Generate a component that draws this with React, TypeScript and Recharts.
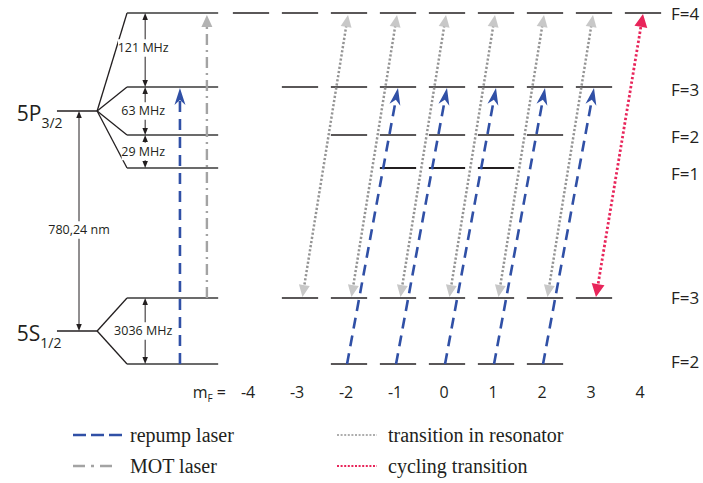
import React from "react";
import { ComposedChart, XAxis, YAxis, ReferenceLine, ReferenceDot, Legend } from "recharts";

const W = 703;
const H = 483;

// one column per magnetic sublevel
const mFValues = [-4, -3, -2, -1, 0, 1, 2, 3, 4];
// 5P3/2 hyperfine levels (schematic height)
const excitedF = [4, 3, 2, 1];
const excitedY = [470, 396, 348, 315];
// 5S1/2 hyperfine levels
const groundF = [3, 2];
const groundY = [185, 119];
// fine structure
const fineNames = ["5P", "5S"];
const fineSubs = ["3/2", "1/2"];
const fineY = [372, 152];
const excitedSplit = ["121 MHz", "63 MHz", "29 MHz"];
const groundSplit = ["3036 MHz"];
const opticalLabel = "780,24 nm";
// transitions, keyed by the lower mF
const repumpFrom = [-2, -1, 0, 1, 2]; // F=2,mF -> F'=3,mF+1
const resonatorFrom = [-3, -2, -1, 0, 1, 2]; // F=3,mF <-> F'=4,mF+1
const cyclingFrom = [3]; // F=3,mF=3 <-> F'=4,mF=4
const legendNames = ["repump laser", "MOT laser", "transition in resonator", "cycling transition"];

// layout (x in column units)
const X_MIN = -447 / 49;
const X_MAX = 256 / 49;
const HALF = 0.37;
const L = {
  fine0: -7.96, fine1: -7.14, fan: -6.53, hfs: -4.67, split: -6.16, optical: -7.51,
  repump: -5.45, mot: -4.9, name: -8.78, fLabel: 4.57, mfEq: -4.51,
};

const INK = "#231f20";
const BLUE = "#3050a6";
const RED = "#e8255a";
const SANS = "'Open Sans', 'Noto Sans', sans-serif";
const SERIF = "'Liberation Serif', 'Times New Roman', serif";

type ArrowStyle = { stroke: string; width: number; dash?: string; head: string; len: number; hw: number; notch: number; both: boolean };

const repumpStyle: ArrowStyle = { stroke: BLUE, width: 2.6, dash: "11 7", head: BLUE, len: 17, hw: 11, notch: 0.3, both: false };
const motStyle: ArrowStyle = { stroke: "#a3a3a3", width: 2.4, dash: "11 5 2 5", head: "#b3b3b3", len: 12, hw: 11, notch: 0, both: false };
const resonatorStyle: ArrowStyle = { stroke: "#949494", width: 2.5, dash: "2.2 2", head: "#c8c8c8", len: 12, hw: 11, notch: 0, both: true };
const cyclingStyle: ArrowStyle = { stroke: RED, width: 2.8, dash: "2.4 2.2", head: RED, len: 13, hw: 13, notch: 0, both: true };
const splitStyle: ArrowStyle = { stroke: INK, width: 1, head: INK, len: 7, hw: 5.5, notch: 0, both: true };

function arrowShape(s: ArrowStyle) {
  return (p: any) => {
    const { x1, y1, x2, y2 } = p;
    const dx = x2 - x1;
    const dy = y2 - y1;
    const len = Math.hypot(dx, dy) || 1;
    const ux = dx / len;
    const uy = dy / len;
    const nx = -uy;
    const ny = ux;
    const head = (tx: number, ty: number, dir: number) => {
      const bx = tx - dir * ux * s.len;
      const by = ty - dir * uy * s.len;
      const mx = tx - dir * ux * s.len * (1 - s.notch);
      const my = ty - dir * uy * s.len * (1 - s.notch);
      return `${tx},${ty} ${bx + (nx * s.hw) / 2},${by + (ny * s.hw) / 2} ${mx},${my} ${bx - (nx * s.hw) / 2},${by - (ny * s.hw) / 2}`;
    };
    const cut = s.len * 0.7;
    const sx = s.both ? x1 + ux * cut : x1;
    const sy = s.both ? y1 + uy * cut : y1;
    return (
      <g>
        <line x1={sx} y1={sy} x2={x2 - ux * cut} y2={y2 - uy * cut} stroke={s.stroke} strokeWidth={s.width} strokeDasharray={s.dash} />
        <polygon points={head(x2, y2, 1)} fill={s.head} />
        {s.both && <polygon points={head(x1, y1, -1)} fill={s.head} />}
      </g>
    );
  };
}

function textShape(label: React.ReactNode, size: number, anchor: "start" | "middle" | "end", bg = 0) {
  return (p: any) => (
    <g>
      {bg > 0 && <rect x={p.cx - bg / 2} y={p.cy - size * 0.7} width={bg} height={size * 1.4} fill="#fff" />}
      <text x={p.cx} y={p.cy} dy="0.35em" fontSize={size} fontFamily={SANS} fill={INK} textAnchor={anchor}>
        {label}
      </text>
    </g>
  );
}

function seg(key: string, a: [number, number], b: [number, number], stroke = INK, width = 1.3) {
  return (
    <ReferenceLine
      key={key}
      segment={[{ x: a[0], y: a[1] }, { x: b[0], y: b[1] }]}
      stroke={stroke}
      strokeWidth={width}
      ifOverflow="visible"
    />
  );
}

function arrow(key: string, a: [number, number], b: [number, number], s: ArrowStyle) {
  return (
    <ReferenceLine
      key={key}
      segment={[{ x: a[0], y: a[1] }, { x: b[0], y: b[1] }]}
      shape={arrowShape(s)}
      ifOverflow="visible"
    />
  );
}

function label(key: string, x: number, y: number, content: React.ReactNode, size: number, anchor: "start" | "middle" | "end" = "middle", bg = 0) {
  return <ReferenceDot key={key} x={x} y={y} r={0} ifOverflow="visible" shape={textShape(content, size, anchor, bg)} />;
}

const legendStyles = [repumpStyle, motStyle, resonatorStyle, cyclingStyle];

function LegendContent() {
  const colX = [73, 337];
  const iconW = [50, 40, 40, 40];
  const textX = [130, 130, 388, 388];
  const iconDash = ["13 5", "12 6 3 6", "2 1.6", "2 1.6"];
  const iconWidth = [2.6, 2.4, 1.5, 1.8];
  return (
    <svg width={W} height={70}>
      {legendNames.map((name, i) => {
        const y = i % 2 === 0 ? 17 : 48;
        const x0 = colX[Math.floor(i / 2)];
        return (
          <g key={name}>
            <line x1={x0} y1={y} x2={x0 + iconW[i]} y2={y} stroke={legendStyles[i].stroke} strokeWidth={iconWidth[i]} strokeDasharray={iconDash[i]} />
            <text x={textX[i]} y={y} dy="0.33em" fontFamily={SERIF} fontSize={20} fill={INK}>
              {name}
            </text>
          </g>
        );
      })}
    </svg>
  );
}

export default function App() {
  const els: React.ReactNode[] = [];

  // hyperfine sublevels
  excitedF.forEach((F, i) =>
    mFValues.filter((m) => Math.abs(m) <= F).forEach((m) =>
      els.push(seg(`e${F}${m}`, [m - HALF, excitedY[i]], [m + HALF, excitedY[i]], INK, F === 1 ? 2.2 : 1.4))
    )
  );
  groundF.forEach((F, i) =>
    mFValues.filter((m) => Math.abs(m) <= F).forEach((m) =>
      els.push(seg(`g${F}${m}`, [m - HALF, groundY[i]], [m + HALF, groundY[i]], INK, 1.4))
    )
  );

  // fine / hyperfine schematic
  [excitedY, groundY].forEach((ys, k) => {
    els.push(seg(`f${k}`, [L.fine0, fineY[k]], [L.fine1, fineY[k]]));
    ys.forEach((y, i) => {
      els.push(seg(`fan${k}${i}`, [L.fine1, fineY[k]], [L.fan, y]));
      els.push(seg(`hfs${k}${i}`, [L.fan, y], [L.hfs, y], "#3a3a3a", 1.3));
    });
  });
  excitedSplit.forEach((t, i) => {
    els.push(arrow(`sa${i}`, [L.split, excitedY[i + 1]], [L.split, excitedY[i]], splitStyle));
  });
  els.push(arrow("sg", [L.split, groundY[1]], [L.split, groundY[0]], splitStyle));
  els.push(arrow("opt", [L.optical, fineY[1]], [L.optical, fineY[0]], splitStyle));

  // lasers on the left
  els.push(arrow("rp", [L.repump, groundY[1]], [L.repump, excitedY[1] - 1], repumpStyle));
  els.push(arrow("mot", [L.mot, groundY[0]], [L.mot, excitedY[0] - 2], motStyle));

  // transitions between sublevels
  resonatorFrom.forEach((m) =>
    els.push(arrow(`res${m}`, [m + 0.05, groundY[0] + 1], [m + 0.98, excitedY[0] - 2], resonatorStyle))
  );
  repumpFrom.forEach((m) =>
    els.push(arrow(`rep${m}`, [m - 0.04, groundY[1]], [m + 1, excitedY[1] - 1], repumpStyle))
  );
  cyclingFrom.forEach((m) =>
    els.push(arrow(`cyc${m}`, [m + 0.04, groundY[0] + 1], [m + 1, excitedY[0] - 1], cyclingStyle))
  );

  // text
  excitedSplit.forEach((t, i) =>
    els.push(label(`st${i}`, L.split - 0.04, (excitedY[i] + excitedY[i + 1]) / 2 + (i === 0 ? 2 : 0), t, 12.5, "middle", t.length * 7.2))
  );
  els.push(label("sgt", L.split - 0.04, (groundY[0] + groundY[1]) / 2, groundSplit[0], 12.5, "middle", 62));
  els.push(label("optt", L.optical, 253, opticalLabel, 12.5, "middle", 62));
  fineNames.forEach((n, k) =>
    els.push(
      label(`fn${k}`, L.name, fineY[k] - 3, (
        <>
          <tspan>{n}</tspan>
          <tspan dy={7} fontSize={14}>{fineSubs[k]}</tspan>
        </>
      ), 21, "start")
    )
  );
  const fLabelY = [469, 393, 346, 309];
  excitedF.forEach((F, i) => els.push(label(`fl${F}`, L.fLabel, fLabelY[i], `F=${F}`, 17, "start")));
  const gLabelY = [185, 121];
  groundF.forEach((F, i) => els.push(label(`gl${F}`, L.fLabel, gLabelY[i], `F=${F}`, 17, "start")));
  els.push(
    label("mfeq", L.mfEq, 91, (
      <>
        <tspan>m</tspan>
        <tspan dy={4} fontSize={10}>F</tspan>
        <tspan dy={-4}> =</tspan>
      </>
    ), 16, "end")
  );
  mFValues.forEach((m) => els.push(label(`mf${m}`, m - 0.06, 91, String(m), 16, "middle")));

  return (
    <div>
      <style>{"body{margin:0;background:#fff}"}</style>
      <ComposedChart width={W} height={H} margin={{ top: 0, right: 0, bottom: 0, left: 0 }}>
        <XAxis type="number" dataKey="x" domain={[X_MIN, X_MAX]} allowDataOverflow hide />
        <YAxis type="number" dataKey="y" domain={[0, H]} allowDataOverflow hide />
        {els}
        <Legend
          layout="horizontal"
          verticalAlign="middle"
          align="center"
          wrapperStyle={{ top: 418, left: 0, width: W, height: 70 }}
          content={() => <LegendContent />}
        />
      </ComposedChart>
    </div>
  );
}
